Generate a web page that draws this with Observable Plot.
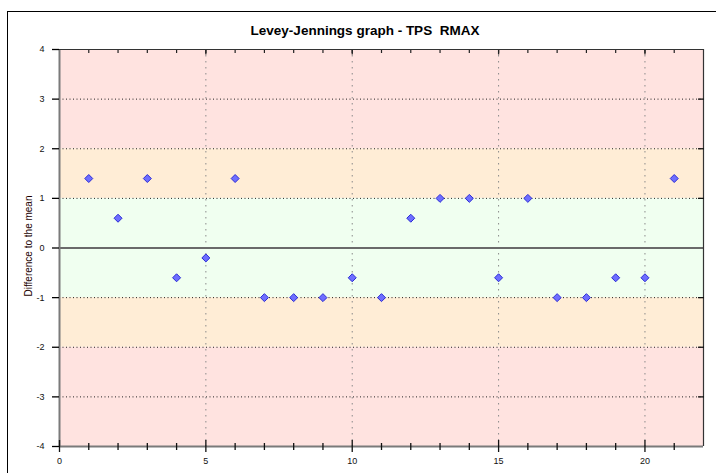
<!DOCTYPE html>
<html>
<head>
<meta charset="utf-8">
<script src="https://cdn.jsdelivr.net/npm/d3@7"></script>
<script src="https://cdn.jsdelivr.net/npm/@observablehq/plot@0.6"></script>
<style>
  html, body { margin: 0; padding: 0; background: #fff; }
  #wrap { position: relative; width: 716px; height: 473px; overflow: hidden; font-family: Arial, "Liberation Sans", sans-serif; }
  #frame { position: absolute; left: 7px; top: 11px; width: 800px; height: 600px; border-left: 1.5px solid #000; border-top: 1.5px solid #000; }
  #title { position: absolute; left: 0; width: 730px; top: 23px; text-align: center; font-weight: bold; font-size: 13.5px; white-space: pre; color: #000; }
  #ylab { position: absolute; left: 28px; top: 246px; transform: translate(-50%, -50%) rotate(-90deg); font-size: 10px; white-space: nowrap; color: #200; }
  #chart { position: absolute; left: 0; top: 0; }
</style>
</head>
<body>
<div id="wrap">
  <div id="frame"></div>
  <div id="title">Levey-Jennings graph - TPS  RMAX</div>
  <div id="ylab">Difference to the mean</div>
  <div id="chart"></div>
</div>
<script>
// Data
const runs = [1,2,3,4,5,6,7,8,9,10,11,12,13,14,15,16,17,18,19,20,21];
const diffs = [1.4,0.6,1.4,-0.6,-0.2,1.4,-1,-1,-1,-0.6,-1,0.6,1,1,-0.6,1,-1,-1,-0.6,-0.6,1.4];
const xDomain = [0, 22];
const yDomain = [-4, 4];
const xMajorTicks = [0,5,10,15,20];
const xMinorTicks = [1,2,3,4,6,7,8,9,11,12,13,14,16,17,18,19,21];
const xTopTicks = [1,2,3,4,5,6,7,8,9,10,11,12,13,14,15,16,17,18,19,20,21];
const yTicks = [-4,-3,-2,-1,0,1,2,3,4];
const yRightTicks = [-3,-2,-1,1,2,3];
const yGrid = [-3,-2,-1,1,2,3];
const xGrid = [5,10,15,20];
const bandLo = [-4,-2,-1,1,2];
const bandHi = [-2,-1,1,2,4];
const bandColor = ["#ffe3e0","#ffedd6","#f0fff0","#ffedd6","#ffe3e0"];

const points = runs.map((r, i) => ({run: r, diff: diffs[i]}));
const bands = bandLo.map((lo, i) => ({lo, hi: bandHi[i], color: bandColor[i]}));

const chart = Plot.plot({
  width: 716,
  height: 473,
  marginLeft: 59,
  marginRight: 13,
  marginTop: 49,
  marginBottom: 27,
  x: {domain: xDomain, axis: null, label: null},
  y: {domain: yDomain, axis: null, label: null},
  color: {type: "identity"},
  style: {fontFamily: "Arial, 'Liberation Sans', sans-serif", color: "#111", background: "transparent"},
  marks: [
    Plot.rect(bands, {x1: () => xDomain[0], x2: () => xDomain[1], y1: "lo", y2: "hi", fill: "color"}),
    Plot.ruleY(yGrid, {stroke: "#222", strokeWidth: 1, strokeDasharray: "1,2.5"}),
    Plot.ruleX(xGrid, {stroke: "#8a8a8a", strokeWidth: 1, strokeDasharray: "1.5,4.5"}),
    Plot.ruleY([0], {stroke: "#6a6a6a", strokeWidth: 1.8}),
    Plot.ruleX([xDomain[0]], {stroke: "#7a7a7a", strokeWidth: 2}),
    Plot.ruleY([yDomain[0]], {stroke: "#7a7a7a", strokeWidth: 2}),
    Plot.ruleY([yDomain[1]], {stroke: "#333", strokeWidth: 1}),
    Plot.ruleX([xDomain[1]], {stroke: "#333", strokeWidth: 1.2}),
    // left axis
    Plot.axisY({anchor: "left", label: null, ticks: yTicks, tickSize: 7, tickPadding: 8, fontSize: 9, stroke: "#000", strokeWidth: 1.3, tickFormat: d => String(d)}),
    // right ticks (inward)
    Plot.axisY({anchor: "right", label: null, ticks: yRightTicks, tickSize: -6, tickFormat: () => "", stroke: "#111", strokeWidth: 1.3}),
    // bottom ticks crossing axis
    Plot.axisX({anchor: "bottom", label: null, ticks: xMajorTicks, tickSize: 12, dy: -6, tickFormat: () => "", stroke: "#111", strokeWidth: 1.3}),
    Plot.axisX({anchor: "bottom", label: null, ticks: xMinorTicks, tickSize: 7, dy: -3, tickFormat: () => "", stroke: "#111", strokeWidth: 1.3}),
    Plot.axisX({anchor: "bottom", label: null, ticks: xMajorTicks, tickSize: 0, tickPadding: 11, fontSize: 9, tickFormat: d => String(d)}),
    // top ticks inward
    Plot.axisX({anchor: "top", label: null, ticks: xTopTicks, tickSize: -3, tickFormat: () => "", stroke: "#222", strokeWidth: 1.2}),
    Plot.axisX({anchor: "top", label: null, ticks: xGrid, tickSize: -4.5, tickFormat: () => "", stroke: "#222", strokeWidth: 1.3}),
    // points
    Plot.dot(points, {x: "run", y: "diff", symbol: "diamond2", r: 3.6, fill: "#6e6eff", stroke: "#2b2bd6", strokeWidth: 1})
  ]
});
document.getElementById("chart").appendChild(chart);
</script>
</body>
</html>
